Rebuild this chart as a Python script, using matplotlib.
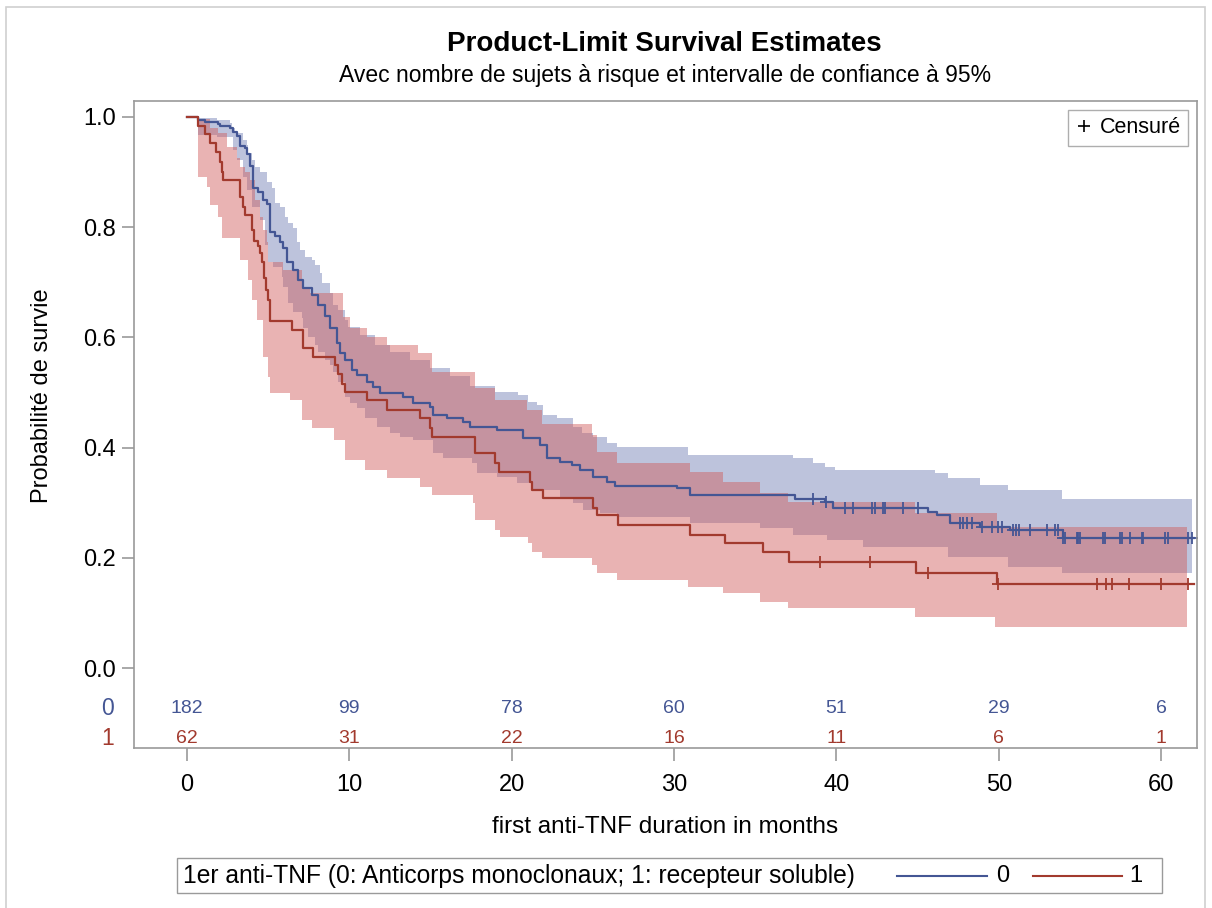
import numpy as np
import matplotlib.pyplot as plt
from matplotlib.lines import Line2D
from matplotlib.patches import Rectangle

plt.rcParams['font.family'] = ['Liberation Sans', 'DejaVu Sans']

BLUE = '#445694'
RED = '#A23A2E'
BLUE_FILL = '#6F7EB3'
RED_FILL = '#D05B5B'
GRID_GREY = '#9A9A9A'

# group 0 : anticorps monoclonaux  (KM estimate, months -> survival after the step)
T0 = [0.68, 1.11, 1.91, 2.03, 2.65, 2.83, 3.08, 3.26, 3.57, 3.70, 3.88, 4.07, 4.37, 4.68, 4.93,
      5.11, 5.42, 5.73, 5.91, 6.16, 6.53, 6.84, 7.15, 7.70, 8.07, 8.50, 8.81, 9.24, 9.43, 9.73,
      10.16, 10.47, 11.09, 11.46, 11.89, 13.31, 13.92, 14.97, 15.15, 16.02, 17.00, 17.43, 19.10,
      20.70, 21.75, 22.18, 22.98, 23.72, 24.21, 25.01, 25.87, 26.37, 30.19, 30.99, 37.45, 39.30,
      39.80, 45.65, 46.20, 47.00, 48.85, 50.70, 53.96]
S0 = [0.995, 0.991, 0.987, 0.984, 0.980, 0.973, 0.966, 0.947, 0.944, 0.933, 0.911, 0.871, 0.864,
      0.849, 0.842, 0.791, 0.784, 0.773, 0.762, 0.737, 0.722, 0.704, 0.690, 0.677, 0.659, 0.639,
      0.617, 0.590, 0.572, 0.559, 0.541, 0.532, 0.519, 0.510, 0.499, 0.492, 0.481, 0.474, 0.459,
      0.454, 0.446, 0.437, 0.432, 0.417, 0.405, 0.381, 0.374, 0.368, 0.359, 0.347, 0.338, 0.330,
      0.326, 0.314, 0.307, 0.301, 0.290, 0.283, 0.278, 0.263, 0.256, 0.250, 0.236]

UP0_T = [0.68, 1.85, 2.65, 2.77, 2.96, 3.45, 3.70, 3.76, 4.00, 4.19, 4.50, 4.93, 5.24, 5.42, 5.73,
         6.04, 6.22, 6.53, 6.78, 6.96, 7.27, 7.70, 7.89, 8.19, 8.32, 8.81, 8.99, 9.30, 9.73, 9.92,
         10.66, 11.58, 12.51, 13.74, 14.97, 16.20, 17.43, 18.97, 20.39, 21.01, 21.56, 21.93, 22.79,
         23.78, 24.33, 25.01, 25.87, 26.49, 30.86, 37.33, 38.56, 39.30, 39.92, 46.08, 46.88, 48.85,
         50.58, 53.90]
UP0_S = [0.999, 0.995, 0.989, 0.980, 0.971, 0.958, 0.949, 0.935, 0.922, 0.909, 0.900, 0.882, 0.871,
         0.844, 0.837, 0.819, 0.808, 0.799, 0.773, 0.759, 0.746, 0.740, 0.731, 0.717, 0.699, 0.681,
         0.659, 0.650, 0.632, 0.619, 0.604, 0.586, 0.573, 0.559, 0.544, 0.530, 0.512, 0.501, 0.495,
         0.483, 0.477, 0.459, 0.454, 0.437, 0.426, 0.419, 0.408, 0.401, 0.387, 0.381, 0.372, 0.365,
         0.359, 0.354, 0.345, 0.332, 0.323, 0.307]
LO0_T = [0.68, 1.85, 2.83, 3.08, 3.45, 3.70, 4.00, 4.50, 4.80, 4.99, 5.30, 5.85, 5.91, 6.22, 6.53,
         7.08, 7.15, 7.45, 7.89, 8.07, 8.50, 8.81, 8.99, 9.30, 9.73, 10.04, 10.47, 10.97, 11.70,
         12.51, 13.12, 13.92, 15.15, 15.77, 17.56, 17.86, 19.10, 20.33, 21.31, 22.98, 23.78, 24.39,
         25.44, 26.49, 30.99, 35.30, 37.33, 39.43, 41.64, 46.88, 50.58, 53.90]
LO0_S = [0.967, 0.964, 0.940, 0.922, 0.891, 0.868, 0.837, 0.813, 0.768, 0.737, 0.727, 0.710, 0.691,
         0.662, 0.646, 0.635, 0.617, 0.601, 0.586, 0.574, 0.559, 0.550, 0.537, 0.519, 0.492, 0.481,
         0.472, 0.454, 0.437, 0.426, 0.419, 0.414, 0.390, 0.381, 0.372, 0.354, 0.347, 0.336, 0.323,
         0.310, 0.299, 0.287, 0.281, 0.274, 0.263, 0.254, 0.241, 0.232, 0.220, 0.201, 0.183, 0.172]
CENS0 = [38.56, 39.36, 40.53, 41.03, 42.20, 42.38, 42.88, 43.00, 44.11, 45.03, 47.62, 47.80, 48.05,
         48.36, 48.97, 49.59, 49.96, 50.21, 50.88, 51.07, 51.25, 51.93, 52.98, 53.47, 53.66, 53.96,
         54.09, 54.83, 54.89, 55.01, 56.43, 56.55, 57.48, 57.60, 58.09, 58.83, 58.89, 60.25, 60.43,
         61.66, 61.91]
END0, BAND_END0 = 62.0, 61.91

# group 1 : recepteur soluble
T1 = [0.68, 1.11, 1.42, 1.79, 2.03, 2.16, 2.22, 3.26, 3.45, 3.57, 4.00, 4.13, 4.37, 4.50, 4.62,
      4.74, 4.87, 4.99, 5.11, 6.47, 7.15, 7.76, 9.12, 9.30, 9.55, 9.73, 11.09, 12.32, 14.35, 14.97,
      15.09, 17.74, 18.97, 19.22, 21.13, 21.25, 21.93, 25.01, 25.26, 26.55, 30.99, 33.14, 35.48,
      37.09, 44.91, 49.90]
S1 = [0.984, 0.969, 0.953, 0.936, 0.918, 0.900, 0.886, 0.855, 0.837, 0.822, 0.795, 0.775, 0.766,
      0.753, 0.737, 0.708, 0.686, 0.668, 0.630, 0.613, 0.581, 0.564, 0.550, 0.534, 0.515, 0.501,
      0.486, 0.468, 0.454, 0.436, 0.419, 0.390, 0.372, 0.356, 0.338, 0.323, 0.309, 0.290, 0.278,
      0.260, 0.241, 0.227, 0.211, 0.192, 0.172, 0.152]

UP1_T = [0.68, 1.42, 1.91, 2.46, 3.08, 3.26, 3.57, 3.88, 4.19, 4.50, 4.68, 4.93, 4.99, 5.91, 7.08,
         7.58, 9.61, 10.04, 11.09, 12.32, 14.23, 15.09, 17.74, 18.97, 20.94, 21.87, 24.95, 25.26,
         26.49, 30.99, 33.02, 35.30, 37.02, 44.85, 49.90]
UP1_S = [0.997, 0.980, 0.971, 0.946, 0.926, 0.909, 0.900, 0.886, 0.849, 0.819, 0.795, 0.773, 0.737,
         0.722, 0.691, 0.681, 0.637, 0.617, 0.601, 0.586, 0.572, 0.537, 0.508, 0.486, 0.468, 0.443,
         0.423, 0.392, 0.372, 0.356, 0.338, 0.318, 0.301, 0.281, 0.256]
LO1_T = [0.68, 1.23, 1.42, 1.91, 2.16, 3.26, 3.76, 4.00, 4.31, 4.68, 4.99, 5.11, 6.35, 7.08, 7.70,
         9.06, 9.73, 10.97, 12.32, 14.35, 15.09, 17.62, 17.74, 18.97, 19.28, 21.01, 21.25, 21.87,
         24.95, 25.26, 26.49, 30.86, 33.02, 35.30, 37.02, 44.85, 49.78]
LO1_S = [0.891, 0.873, 0.840, 0.819, 0.780, 0.740, 0.704, 0.668, 0.632, 0.564, 0.528, 0.499, 0.486,
         0.450, 0.436, 0.414, 0.377, 0.359, 0.345, 0.328, 0.314, 0.299, 0.269, 0.250, 0.238, 0.227,
         0.211, 0.200, 0.187, 0.172, 0.160, 0.147, 0.136, 0.120, 0.109, 0.093, 0.074]
CENS1 = [38.99, 42.07, 45.65, 49.96, 56.06, 56.61, 56.98, 58.03, 60.00, 61.66]
END1, BAND_END1 = 62.0, 61.6

# numbers at risk
RISK_T = [0, 10, 20, 30, 40, 50, 60]
RISK0 = [182, 99, 78, 60, 51, 29, 6]
RISK1 = [62, 31, 22, 16, 11, 6, 1]


def step_at(times, values, x):
    idx = np.searchsorted(times, x, side='right') - 1
    vals = np.asarray(values)[np.clip(idx, 0, None)]
    return np.where(idx >= 0, vals, 1.0)


def draw_group(ax, t, s, up_t, up_s, lo_t, lo_s, cens, end, band_end, color, fill):
    grid = np.unique(np.r_[0.0, up_t, lo_t, band_end])
    ax.fill_between(grid, step_at(lo_t, lo_s, grid), step_at(up_t, up_s, grid),
                    step='post', color=fill, alpha=0.46, lw=0)
    xs = np.r_[0.0, t, end]
    ys = np.r_[1.0, s, s[-1]]
    ax.step(xs, ys, where='post', color=color, lw=1.6)
    ax.plot(cens, step_at(t, s, np.asarray(cens)), ls='none', marker='+',
            ms=9, mew=1.3, color=color)


fig = plt.figure(figsize=(12.12, 9.08), dpi=100)
ax = fig.add_axes([0.1106, 0.1762, 0.877, 0.7126])

draw_group(ax, T0, S0, UP0_T, UP0_S, LO0_T, LO0_S, CENS0, END0, BAND_END0, BLUE, BLUE_FILL)
draw_group(ax, T1, S1, UP1_T, UP1_S, LO1_T, LO1_S, CENS1, END1, BAND_END1, RED, RED_FILL)

ax.set_xlim(-3.26, 62.2)
ax.set_ylim(-0.145, 1.029)
ax.set_xticks(RISK_T)
ax.set_yticks([0.0, 0.2, 0.4, 0.6, 0.8, 1.0])
ax.set_yticklabels(['0.0', '0.2', '0.4', '0.6', '0.8', '1.0'])
ax.tick_params(labelsize=17, color=GRID_GREY, length=9, width=1.2, pad=4)
ax.tick_params(axis='x', pad=10)
for sp in ax.spines.values():
    sp.set_color(GRID_GREY)
    sp.set_linewidth(1.2)

ax.set_xlabel('first anti-TNF duration in months', fontsize=17.5, labelpad=14)
ax.set_ylabel('Probabilité de survie', fontsize=17)
ax.yaxis.set_label_coords(-0.076, 0.544)

# numbers at risk inside the plot area
for x, n0, n1 in zip(RISK_T, RISK0, RISK1):
    ax.text(x, -0.073, str(n0), color=BLUE, fontsize=14, ha='center', va='center')
    ax.text(x, -0.127, str(n1), color=RED, fontsize=14, ha='center', va='center')
ytr = ax.get_yaxis_transform()
ax.text(-0.025, -0.073, '0', color=BLUE, fontsize=16.5, ha='center', va='center', transform=ytr)
ax.text(-0.025, -0.127, '1', color=RED, fontsize=16.5, ha='center', va='center', transform=ytr)

cens_handle = Line2D([], [], ls='none', marker='+', color='black', ms=9, mew=1.2)
leg = ax.legend([cens_handle], ['Censuré'], loc='upper right', fontsize=15.5, fancybox=False,
                handlelength=0.7, handletextpad=0.4, borderpad=0.35, borderaxespad=0.4)
leg.get_frame().set_edgecolor(GRID_GREY)
leg.get_frame().set_linewidth(1.0)

fig.text(0.5485, 0.9515, 'Product-Limit Survival Estimates', fontsize=20, fontweight='bold',
         ha='center', va='center')
fig.text(0.5485, 0.917, 'Avec nombre de sujets à risque et intervalle de confiance à 95%',
         fontsize=16.5, ha='center', va='center')

# group legend below the chart
fig.patches.append(Rectangle((0.146, 0.0165), 0.813, 0.039, transform=fig.transFigure,
                             fill=False, edgecolor=GRID_GREY, lw=1.0))
fig.text(0.151, 0.0352, '1er anti-TNF (0: Anticorps monoclonaux; 1: recepteur soluble)',
         fontsize=17.7, ha='left', va='center')
fig.lines.append(Line2D([0.740, 0.814], [0.0352, 0.0352], transform=fig.transFigure,
                        color=BLUE, lw=1.5))
fig.text(0.827, 0.0352, '0', fontsize=17, ha='center', va='center')
fig.lines.append(Line2D([0.852, 0.926], [0.0352, 0.0352], transform=fig.transFigure,
                        color=RED, lw=1.5))
fig.text(0.937, 0.0352, '1', fontsize=17, ha='center', va='center')

# light frame around the whole graph
fig.patches.append(Rectangle((0.005, -0.01), 0.989, 1.002, transform=fig.transFigure,
                             fill=False, edgecolor='#D0D0D0', lw=1.2))

fig.savefig('out.png', dpi=100)
